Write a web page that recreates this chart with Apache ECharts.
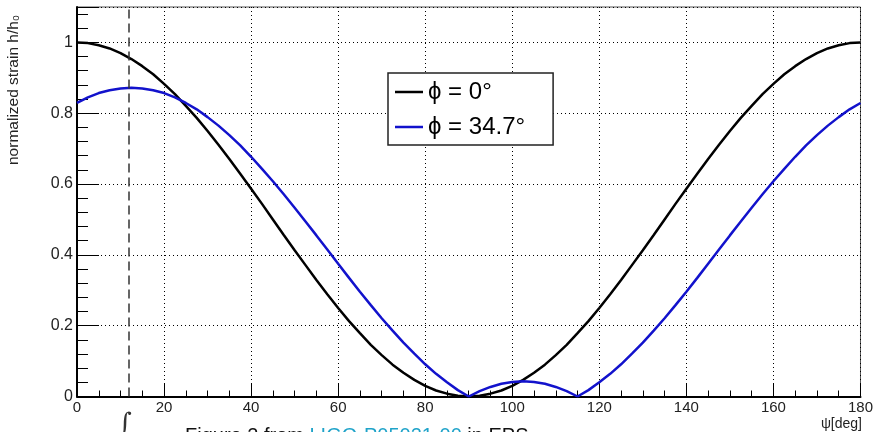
<!DOCTYPE html>
<html>
<head>
<meta charset="utf-8">
<script src="https://cdn.jsdelivr.net/npm/echarts@6/dist/echarts.min.js"></script>
<style>
  html, body { margin: 0; padding: 0; background: #fff; }
  #chart { width: 876px; height: 432px; }
</style>
</head>
<body>
<div id="chart"></div>
<script>
// psi in degrees, read every 2.5 deg
const psi = [0, 2.5, 5, 7.5, 10, 12.5, 15, 17.5, 20, 22.5, 25, 27.5, 30, 32.5, 35, 37.5,
  40, 42.5, 45, 47.5, 50, 52.5, 55, 57.5, 60, 62.5, 65, 67.5, 70, 72.5, 75, 77.5,
  80, 82.5, 85, 87.5, 90, 92.5, 95, 97.5, 100, 102.5, 105, 107.5, 110, 112.5, 115, 117.5,
  120, 122.5, 125, 127.5, 130, 132.5, 135, 137.5, 140, 142.5, 145, 147.5, 150, 152.5,
  155, 157.5, 160, 162.5, 165, 167.5, 170, 172.5, 175, 177.5, 180]

// phi = 0 deg (black)
const strainPhi0 = [1, 0.998, 0.992, 0.983, 0.970, 0.953, 0.933, 0.910, 0.883, 0.854,
  0.821, 0.787, 0.750, 0.711, 0.671, 0.629, 0.587, 0.544, 0.500, 0.456,
  0.413, 0.371, 0.329, 0.289, 0.250, 0.213, 0.179, 0.146, 0.117, 0.090,
  0.067, 0.047, 0.030, 0.017, 0.008, 0.002, 0,
  0.002, 0.008, 0.017, 0.030, 0.047, 0.067, 0.090, 0.117, 0.146, 0.179,
  0.213, 0.250, 0.289, 0.329, 0.371, 0.413, 0.456, 0.500, 0.544, 0.587,
  0.629, 0.671, 0.711, 0.750, 0.787, 0.821, 0.854, 0.883, 0.910, 0.933,
  0.953, 0.970, 0.983, 0.992, 0.998, 1]

// phi = 34.7 deg (blue)
const strainPhi347 = [0.829, 0.845, 0.857, 0.865, 0.870, 0.872, 0.870, 0.865, 0.857, 0.845,
  0.829, 0.811, 0.789, 0.765, 0.738, 0.709, 0.677, 0.643, 0.608, 0.571,
  0.533, 0.494, 0.455, 0.415, 0.375, 0.335, 0.296, 0.258, 0.221, 0.186,
  0.152, 0.121, 0.091, 0.064, 0.040, 0.018, 0,
  0.015, 0.027, 0.036, 0.041, 0.043, 0.041, 0.036, 0.027, 0.015, 0,
  0.018, 0.040, 0.064, 0.091, 0.121, 0.152, 0.186, 0.221, 0.258, 0.296,
  0.335, 0.375, 0.415, 0.455, 0.494, 0.533, 0.571, 0.608, 0.643, 0.677,
  0.709, 0.738, 0.765, 0.789, 0.811, 0.829]

const seriesNames = ['\u03d5 = 0\u00b0', '\u03d5 = 34.7\u00b0']
const dashedX = 12

const font = 'Liberation Sans, Arial, sans-serif'

const chart = echarts.init(document.getElementById('chart'), null, { renderer: 'canvas' })

chart.setOption({
  backgroundColor: '#fff',
  animation: false,
  grid: {
    left: 77,
    top: 7,
    width: 787,
    height: 389.5,
    show: true,
    borderColor: '#555',
    borderWidth: 1,
    backgroundColor: 'transparent'
  },
  legend: {
    orient: 'vertical',
    left: 388,
    top: 73,
    padding: [7, 28, 6, 7],
    itemGap: 11,
    itemWidth: 28,
    itemHeight: 2.5,
    icon: 'rect',
    backgroundColor: '#fff',
    borderColor: '#222',
    borderWidth: 1.5,
    data: seriesNames,
    textStyle: {
      fontFamily: font,
      fontSize: 24,
      color: '#000'
    }
  },
  xAxis: {
    type: 'value',
    min: 0,
    max: 180,
    interval: 20,
    axisLine: { show: true, onZero: false, lineStyle: { color: '#000', width: 2 } },
    axisTick: { show: true, inside: true, length: 13, lineStyle: { color: '#000', width: 1 } },
    minorTick: { show: true, splitNumber: 4, length: 6, lineStyle: { color: '#000', width: 1 } },
    axisLabel: { margin: 4, fontFamily: font, fontSize: 15, color: '#222' },
    splitLine: { show: true, lineStyle: { color: '#000', width: 1, type: [1, 3] } }
  },
  yAxis: {
    type: 'value',
    min: 0,
    max: 1.1,
    interval: 0.2,
    axisLine: { show: true, onZero: false, lineStyle: { color: '#000', width: 2 } },
    axisTick: { show: true, inside: true, length: 22, lineStyle: { color: '#000', width: 1 } },
    minorTick: { show: true, splitNumber: 5, length: 11, lineStyle: { color: '#000', width: 1 } },
    axisLabel: { margin: 4, fontFamily: font, fontSize: 16, color: '#222', showMaxLabel: false },
    splitLine: { show: true, lineStyle: { color: '#000', width: 1, type: [1, 3] } }
  },
  series: [
    {
      name: seriesNames[0],
      type: 'line',
      symbol: 'none',
      smooth: false,
      lineStyle: { color: '#000', width: 2.5 },
      itemStyle: { color: '#000' },
      data: psi.map((x, i) => [x, strainPhi0[i]]),
      markLine: {
        silent: true,
        symbol: ['none', 'none'],
        label: { show: false },
        lineStyle: { color: '#333', width: 1.5, type: [9, 5] },
        data: [{ xAxis: dashedX }]
      }
    },
    {
      name: seriesNames[1],
      type: 'line',
      symbol: 'none',
      smooth: false,
      lineStyle: { color: '#1212cc', width: 2.5 },
      itemStyle: { color: '#1212cc' },
      data: psi.map((x, i) => [x, strainPhi347[i]])
    }
  ],
  graphic: [
    {
      type: 'text',
      x: 14,
      y: 165,
      rotation: Math.PI / 2,
      style: {
        text: 'normalized strain h/h\u2080',
        fontFamily: font,
        fontSize: 15.5,
        fill: '#222',
        align: 'left',
        verticalAlign: 'middle'
      }
    },
    {
      type: 'text',
      x: 862,
      y: 424,
      style: {
        text: '\u03c8[deg]',
        fontFamily: font,
        fontSize: 14,
        fill: '#222',
        align: 'right',
        verticalAlign: 'middle'
      }
    },
    {
      type: 'text',
      x: 125,
      y: 424,
      style: {
        text: '\u222b',
        fontFamily: 'DejaVu Serif, serif',
        fontSize: 26,
        fill: '#333',
        align: 'center',
        verticalAlign: 'middle'
      }
    },
    {
      type: 'text',
      x: 185,
      y: 426,
      style: {
        text: 'Figure 2 from {link|LIGO-P05021-00} in EPS',
        fontFamily: font,
        fontSize: 20,
        fill: '#111',
        align: 'left',
        verticalAlign: 'top',
        rich: {
          link: { fontFamily: font, fontSize: 20, fill: '#1fa3c9', color: '#1fa3c9' }
        }
      }
    }
  ]
})
</script>
</body>
</html>
